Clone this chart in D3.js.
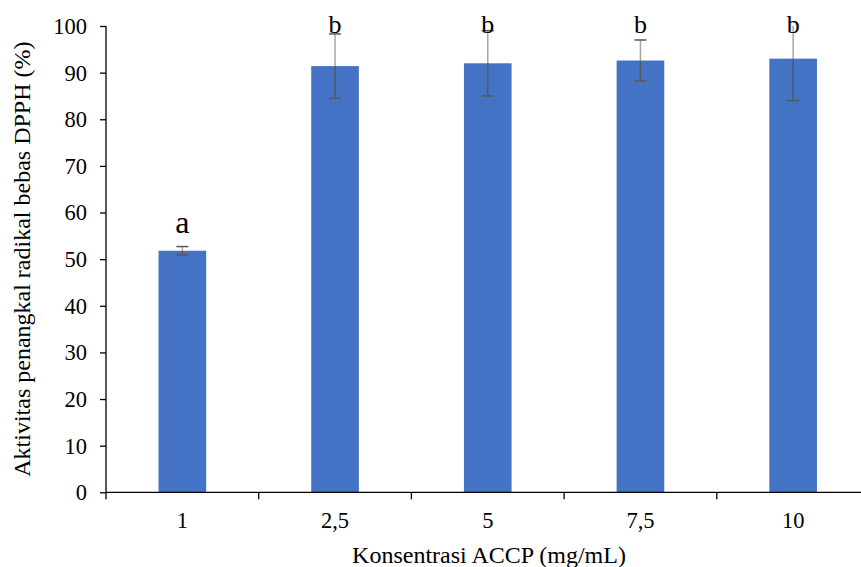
<!DOCTYPE html>
<html>
<head>
<meta charset="utf-8">
<script src="https://cdn.jsdelivr.net/npm/d3@7"></script>
<style>
  body { margin: 0; background: #fff; }
  svg { display: block; font-family: "Liberation Serif", "Times New Roman", serif; }
</style>
</head>
<body>
<svg id="Chartsvg" width="861" height="567"></svg>
<script>
// data
var categories = ["1", "2,5", "5", "7,5", "10"];
var values = [51.8, 91.4, 92.0, 92.6, 93.0];
var errors = [0.9, 6.9, 7.0, 4.4, 9.0];
var letters = ["a", "b", "b", "b", "b"];
var yTicks = [0, 10, 20, 30, 40, 50, 60, 70, 80, 90, 100];

function drawChart() {
    var svg = d3.select("#Chartsvg");

    var plotLeft = 106, plotRight = 869.5, plotTop = 26, plotBottom = 492.3;

    var x = d3.scaleBand()
        .domain(categories)
        .range([plotLeft, plotRight])
        .paddingInner(0)
        .paddingOuter(0);

    var y = d3.scaleLinear()
        .domain([0, 100])
        .range([plotBottom, plotTop]);

    var barW = x.bandwidth() * 0.312;
    var mid = function(c) { return x(c) + x.bandwidth() / 2; };

    // bars
    svg.append("g").selectAll("rect")
        .data(values)
        .enter().append("rect")
        .attr("x", function(d, i) { return mid(categories[i]) - barW / 2; })
        .attr("y", function(d) { return y(d); })
        .attr("width", barW)
        .attr("height", function(d) { return y(0) - y(d); })
        .attr("fill", "#4472C4");

    // error bars (clipped at 100 like the original)
    var eg = svg.append("g");
    values.forEach(function(v, i) {
        var cx = mid(categories[i]);
        var hi = Math.min(v + errors[i], 100), lo = v - errors[i];
        eg.append("line").attr("x1", cx).attr("x2", cx)
            .attr("y1", y(hi)).attr("y2", y(v))
            .attr("stroke", "#a6a6a6").attr("stroke-width", 1.5);
        eg.append("line").attr("x1", cx).attr("x2", cx)
            .attr("y1", y(v)).attr("y2", y(lo))
            .attr("stroke", "#595959").attr("stroke-width", 1.5);
        if (v + errors[i] <= 100) {
            eg.append("line").attr("x1", cx - 6).attr("x2", cx + 6)
                .attr("y1", y(hi)).attr("y2", y(hi))
                .attr("stroke", "#595959").attr("stroke-width", 1.5);
        }
        eg.append("line").attr("x1", cx - 6).attr("x2", cx + 6)
            .attr("y1", y(lo)).attr("y2", y(lo))
            .attr("stroke", "#595959").attr("stroke-width", 1.5);
    });

    // significance letters
    svg.append("g").selectAll("text")
        .data(letters)
        .enter().append("text")
        .attr("x", function(d, i) { return mid(categories[i]); })
        .attr("y", function(d, i) { return i === 0 ? 233 : 33; })
        .attr("text-anchor", "middle")
        .attr("font-size", function(d, i) { return i === 0 ? 32 : 26; })
        .attr("fill", "#000")
        .text(function(d) { return d; });

    // y axis
    var yAxis = svg.append("g")
        .attr("transform", "translate(" + plotLeft + ",0)")
        .call(d3.axisLeft(y).tickValues(yTicks).tickSize(6).tickPadding(13));
    yAxis.selectAll("text").attr("font-size", 22.5).attr("fill", "#000")
        .attr("font-family", "Liberation Serif").attr("dy", "0.33em");
    yAxis.selectAll("line, path").attr("stroke", "#000").attr("stroke-width", 1.3);
    yAxis.select(".domain").attr("d", "M0," + plotBottom + "V" + plotTop);

    // x axis with ticks between categories
    var xg = svg.append("g").attr("transform", "translate(0," + plotBottom + ")");
    xg.append("line").attr("x1", plotLeft).attr("x2", plotRight)
        .attr("stroke", "#000").attr("stroke-width", 1.3);
    var edges = categories.map(function(c) { return x(c); }).concat([plotRight]);
    xg.selectAll("line.tk").data(edges).enter().append("line")
        .attr("class", "tk")
        .attr("x1", function(d) { return d; }).attr("x2", function(d) { return d; })
        .attr("y1", 0).attr("y2", 7)
        .attr("stroke", "#000").attr("stroke-width", 1.3);
    xg.selectAll("text.lbl").data(categories).enter().append("text")
        .attr("class", "lbl")
        .attr("x", function(d) { return mid(d); })
        .attr("y", 36)
        .attr("text-anchor", "middle")
        .attr("font-size", 22.5)
        .text(function(d) { return d; });

    // axis titles
    svg.append("text")
        .attr("x", 489).attr("y", 563)
        .attr("text-anchor", "middle")
        .attr("font-size", 24)
        .text("Konsentrasi ACCP (mg/mL)");

    svg.append("text")
        .attr("transform", "translate(30," + ((plotTop + plotBottom) / 2) + ") rotate(-90)")
        .attr("text-anchor", "middle")
        .attr("font-size", 24)
        .text("Aktivitas penangkal radikal bebas DPPH (%)");
}

drawChart();
</script>
</body>
</html>
